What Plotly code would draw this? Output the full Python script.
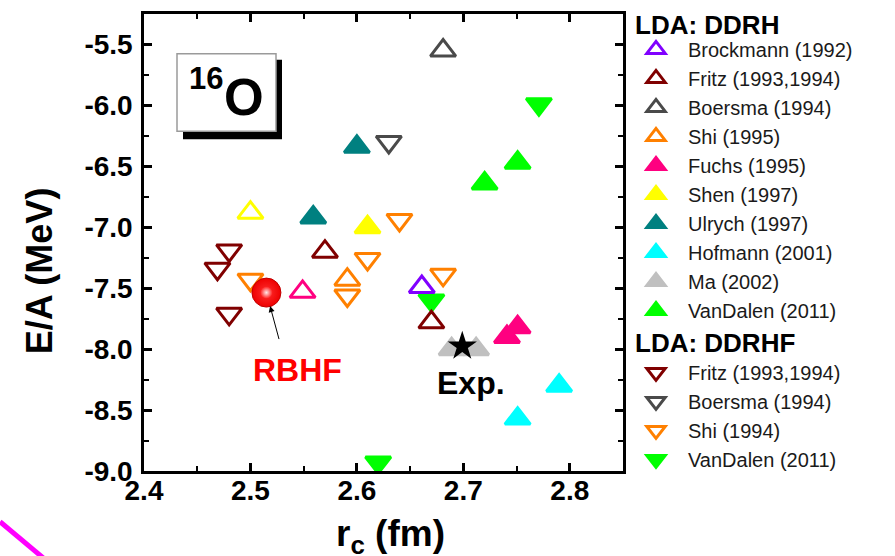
import plotly.graph_objects as go

FONT = "Liberation Sans, Arial, sans-serif"

# ---------------- data: r_c (fm) and E/A (MeV) ----------------
# LDA: DDRH
brockmann_x = [2.661]
brockmann_y = [-7.49]
fritz_h_x = [2.570, 2.670]
fritz_h_y = [-7.20, -7.78]
boersma_h_x = [2.681]
boersma_h_y = [-5.55]
shi95_x = [2.591]
shi95_y = [-7.43]
fuchs_x = [2.741, 2.751, 2.549]
fuchs_y = [-7.90, -7.82, -7.53]
shen_x = [2.610, 2.500]
shen_y = [-7.00, -6.88]
ulrych_x = [2.600, 2.559]
ulrych_y = [-6.34, -6.92]
hofmann_x = [2.790, 2.751]
hofmann_y = [-8.30, -8.57]
ma_x = [2.689, 2.712]
ma_y = [-8.00, -8.00]
vandalen_h_x = [2.720, 2.751]
vandalen_h_y = [-6.64, -6.47]

# LDA: DDRHF
fritz_hf_x = [2.480, 2.469, 2.480]
fritz_hf_y = [-7.19, -7.34, -7.71]
boersma_hf_x = [2.630]
boersma_hf_y = [-6.30]
shi94_x = [2.500, 2.591, 2.610, 2.640, 2.681]
shi94_y = [-7.43, -7.56, -7.26, -6.94, -7.39]
vandalen_hf_x = [2.771, 2.670, 2.620]
vandalen_hf_y = [-5.99, -7.60, -8.93]

# RBHF and experiment
rbhf_x = [2.515]
rbhf_y = [-7.536]
exp_x = [2.699]
exp_y = [-7.976]

x_tickvals = [2.4, 2.5, 2.6, 2.7, 2.8]
x_ticktext = ["2.4", "2.5", "2.6", "2.7", "2.8"]
y_tickvals = [-9.0, -8.5, -8.0, -7.5, -7.0, -6.5, -6.0, -5.5]
y_ticktext = ["-9.0", "-8.5", "-8.0", "-7.5", "-7.0", "-6.5", "-6.0", "-5.5"]

# ---------------- figure ----------------
fig = go.Figure()

MS = 22
LW = 3


def add(x, y, name, color, symbols, group, rank):
    fig.add_trace(go.Scatter(
        x=x, y=y, mode="markers", name=name,
        legendgroup=group, legendrank=rank,
        marker=dict(symbol=symbols, size=MS, color=color,
                    line=dict(color=color, width=LW)),
        hoverinfo="skip",
    ))


# DDRHF drawn first (underneath)
add(fritz_hf_x, fritz_hf_y, "Fritz (1993,1994)", "#800000", "triangle-down-open", "DDRHF", 11)
add(boersma_hf_x, boersma_hf_y, "Boersma (1994)", "#4a4a4a", "triangle-down-open", "DDRHF", 12)
add(shi94_x, shi94_y, "Shi (1994)", "#ff8000", "triangle-down-open", "DDRHF", 13)
add(vandalen_hf_x, vandalen_hf_y, "VanDalen (2011)", "#00ff00", "triangle-down", "DDRHF", 14)

# DDRH
add(brockmann_x, brockmann_y, "Brockmann (1992)", "#8000ff", "triangle-up-open", "DDRH", 1)
add(fritz_h_x, fritz_h_y, "Fritz (1993,1994)", "#800000", "triangle-up-open", "DDRH", 2)
add(boersma_h_x, boersma_h_y, "Boersma (1994)", "#4a4a4a", "triangle-up-open", "DDRH", 3)
add(shi95_x, shi95_y, "Shi (1995)", "#ff8000", "triangle-up-open", "DDRH", 4)
add(fuchs_x, fuchs_y, "Fuchs (1995)", "#ff0080",
    ["triangle-up", "triangle-up", "triangle-up-open"], "DDRH", 5)
add(shen_x, shen_y, "Shen (1997)", "#ffff00", ["triangle-up", "triangle-up-open"], "DDRH", 6)
add(ulrych_x, ulrych_y, "Ulrych (1997)", "#008080", "triangle-up", "DDRH", 7)
add(hofmann_x, hofmann_y, "Hofmann (2001)", "#00ffff", "triangle-up", "DDRH", 8)
add(ma_x, ma_y, "Ma (2002)", "#c0c0c0", "triangle-up", "DDRH", 9)
add(vandalen_h_x, vandalen_h_y, "VanDalen (2011)", "#00ff00", "triangle-up", "DDRH", 10)

# Experiment star
fig.add_trace(go.Scatter(
    x=exp_x, y=exp_y, mode="markers", showlegend=False, hoverinfo="skip",
    marker=dict(symbol="star", size=22, color="black", line=dict(width=0)),
))

# RBHF sphere
fig.add_trace(go.Scatter(
    x=rbhf_x, y=rbhf_y, mode="markers", showlegend=False, hoverinfo="skip",
    marker=dict(symbol="circle", size=29, color="#ee0000",
                gradient=dict(type="radial", color="#ff3030"),
                line=dict(color="#c00000", width=1)),
))
fig.add_trace(go.Scatter(
    x=rbhf_x, y=rbhf_y, mode="markers", showlegend=False, hoverinfo="skip",
    marker=dict(symbol="circle", size=12, color="#ff2020",
                gradient=dict(type="radial", color="#ffe8e8"),
                line=dict(width=0)),
))

W, H = 895, 556
ML, MR, MT, MB = 144, 272, 11, 85
PW = W - ML - MR
PH = H - MT - MB


def px(xp):
    return (xp - ML) / PW


def py(yp):
    return (H - MB - yp) / PH


def bold(size, color="black"):
    return dict(size=size, family=FONT, color=color, weight="bold")


annotations = [
    # RBHF label and arrow
    dict(x=rbhf_x[0], y=rbhf_y[0], xref="x", yref="y", text="", showarrow=True,
         ax=13, ay=48, standoff=14, arrowhead=2, arrowsize=1.2, arrowwidth=1,
         arrowcolor="black"),
    dict(x=rbhf_x[0], y=rbhf_y[0], xref="x", yref="y", text="RBHF", showarrow=False,
         xshift=31, yshift=-77, font=bold(32, "#ff0000")),
    dict(x=exp_x[0], y=exp_y[0], xref="x", yref="y", text="Exp.", showarrow=False,
         xshift=9, yshift=-37, font=bold(32)),
    # 16O label
    dict(x=px(206), y=py(76), xref="paper", yref="paper", text="16", showarrow=False,
         xanchor="center", yanchor="middle", font=bold(31)),
    dict(x=px(244), y=py(95), xref="paper", yref="paper", text="O", showarrow=False,
         xanchor="center", yanchor="middle", font=bold(51)),
    # axis titles
    dict(x=px(39), y=py(270), xref="paper", yref="paper", text="E/A (MeV)",
         textangle=-90, showarrow=False, xanchor="center", yanchor="middle",
         font=bold(36)),
    dict(x=px(390), y=py(536), xref="paper", yref="paper", text="r<sub>c</sub> (fm)",
         showarrow=False, xanchor="center", yanchor="middle", font=bold(37)),
    # legend headers
    dict(x=px(633), y=py(22), xref="paper", yref="paper", text="LDA: DDRH",
         showarrow=False, xanchor="left", yanchor="middle", font=bold(26)),
    dict(x=px(633), y=py(342), xref="paper", yref="paper", text="LDA: DDRHF",
         showarrow=False, xanchor="left", yanchor="middle", font=bold(26)),
]

shapes = [
    dict(type="rect", xref="paper", yref="paper",
         x0=px(183), x1=px(282), y0=py(137), y1=py(57),
         fillcolor="black", line=dict(width=0), layer="below"),
    dict(type="rect", xref="paper", yref="paper",
         x0=px(177), x1=px(276), y0=py(129), y1=py(51),
         fillcolor="white", line=dict(color="#9a9a9a", width=1.5), layer="below"),
    dict(type="line", xref="paper", yref="paper",
         x0=px(0), y0=py(522), x1=px(45), y1=py(560),
         line=dict(color="#ff00ff", width=5)),
]

axis_common = dict(
    showline=True, linewidth=2.5, linecolor="black", mirror="ticks",
    ticks="inside", ticklen=8, tickwidth=2.5, tickcolor="black",
    showgrid=False, zeroline=False,
    tickfont=bold(28),
)

fig.update_layout(
    width=W, height=H,
    margin=dict(l=ML, r=MR, t=MT, b=MB),
    paper_bgcolor="white", plot_bgcolor="white",
    xaxis=dict(range=[2.4, 2.85], tickvals=x_tickvals, ticktext=x_ticktext,
               minor=dict(dtick=0.05, tick0=2.4, ticks="inside", ticklen=5,
                          tickwidth=2, tickcolor="black"),
               ticklabelstandoff=-7, **axis_common),
    yaxis=dict(range=[-9.0, -5.25], tickvals=y_tickvals, ticktext=y_ticktext,
               minor=dict(dtick=0.25, tick0=-9.0, ticks="inside", ticklen=5,
                          tickwidth=2, tickcolor="black"),
               ticklabelstandoff=3, **axis_common),
    legend=dict(x=px(624), xanchor="left", y=py(27), yanchor="top",
                traceorder="grouped", tracegroupgap=33,
                font=dict(size=20, family=FONT, color="#1a1a1a"),
                bgcolor="rgba(0,0,0,0)", borderwidth=0, itemwidth=54),
    annotations=annotations,
    shapes=shapes,
)

fig.write_html("out.html", config={"displayModeBar": False},
               post_script="document.body.style.margin='0';")
